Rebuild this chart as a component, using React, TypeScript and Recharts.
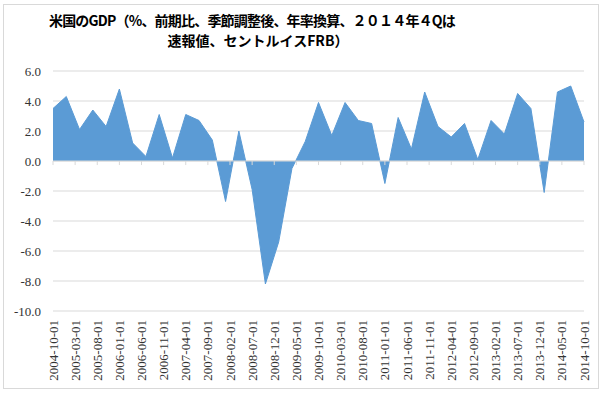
import { AreaChart, Area, XAxis, YAxis, CartesianGrid, ReferenceLine } from "recharts"

const titleLines = ["米国のGDP（%、前期比、季節調整後、年率換算、２０１４年４Qは", "速報値、セントルイスFRB）"]

const quarters = [
  "2004-10-01",
  "2005-01-01", "2005-04-01", "2005-07-01", "2005-10-01",
  "2006-01-01", "2006-04-01", "2006-07-01", "2006-10-01",
  "2007-01-01", "2007-04-01", "2007-07-01", "2007-10-01",
  "2008-01-01", "2008-04-01", "2008-07-01", "2008-10-01",
  "2009-01-01", "2009-04-01", "2009-07-01", "2009-10-01",
  "2010-01-01", "2010-04-01", "2010-07-01", "2010-10-01",
  "2011-01-01", "2011-04-01", "2011-07-01", "2011-10-01",
  "2012-01-01", "2012-04-01", "2012-07-01", "2012-10-01",
  "2013-01-01", "2013-04-01", "2013-07-01", "2013-10-01",
  "2014-01-01", "2014-04-01", "2014-07-01", "2014-10-01",
]

const gdp = [
  3.5,
  4.3, 2.1, 3.4, 2.3,
  4.8, 1.2, 0.3, 3.1,
  0.2, 3.1, 2.7, 1.4,
  -2.7, 2.0, -1.9, -8.2,
  -5.4, -0.5, 1.3, 3.9,
  1.7, 3.9, 2.7, 2.5,
  -1.5, 2.9, 0.8, 4.6,
  2.3, 1.6, 2.5, 0.1,
  2.7, 1.8, 4.5, 3.5,
  -2.1, 4.6, 5.0, 2.6,
]

const tickLabels = [
  "2004-10-01", "2005-03-01", "2005-08-01", "2006-01-01", "2006-06-01",
  "2006-11-01", "2007-04-01", "2007-09-01", "2008-02-01", "2008-07-01",
  "2008-12-01", "2009-05-01", "2009-10-01", "2010-03-01", "2010-08-01",
  "2011-01-01", "2011-06-01", "2011-11-01", "2012-04-01", "2012-09-01",
  "2013-02-01", "2013-07-01", "2013-12-01", "2014-05-01", "2014-10-01",
]

const yTicks = [-10, -8, -6, -4, -2, 0, 2, 4, 6]

// months since 2004-10, used as a numeric date axis
const monthIndex = (d: string) => {
  const [y, m] = d.split("-").map(Number)
  return (y - 2004) * 12 + (m - 10)
}

const data = quarters.map((q, i) => ({ m: monthIndex(q), value: gdp[i] }))
const xTicks = tickLabels.map(monthIndex)
const labelOf = (m: number) => tickLabels[xTicks.indexOf(m)] ?? ""

const serif = "'Liberation Serif', 'DejaVu Serif', serif"

const DateTick = (props: any) => {
  const { x, y, payload } = props
  return (
    <text
      x={x}
      y={y}
      transform={`rotate(-90, ${x}, ${y})`}
      textAnchor="end"
      dy="0.35em"
      fontSize={13}
      fontFamily={serif}
      fill="#333"
    >
      {labelOf(payload.value)}
    </text>
  )
}

export default function App() {
  return (
    <div style={{ position: "absolute", left: 0, top: 0, width: 605, height: 396, background: "#fff" }}>
      <div
        style={{
          position: "absolute",
          left: 3,
          top: 4,
          width: 596,
          height: 385,
          border: "1px solid #d9d9d9",
          boxSizing: "border-box",
        }}
      />
      {titleLines.map((t, i) => (
        <div
          key={i}
          style={{
            position: "absolute",
            left: 0,
            width: i === 0 ? 504 : 516,
            top: 11 + i * 20,
            textAlign: "center",
            fontFamily: "'Noto Sans CJK JP', sans-serif",
            fontWeight: 700,
            fontSize: 14,
            letterSpacing: i === 0 ? "-0.8px" : "0px",
            lineHeight: "18px",
            color: "#000",
            whiteSpace: "nowrap",
          }}
        >
          {t}
        </div>
      ))}
      <AreaChart width={605} height={396} data={data} margin={{ top: 71, right: 21, bottom: 0, left: 0 }}>
        <CartesianGrid vertical={false} stroke="#d9d9d9" />
        <XAxis
          dataKey="m"
          type="number"
          domain={[0, 120]}
          ticks={xTicks}
          interval={0}
          axisLine={false}
          tickLine={false}
          tickSize={0}
          tickMargin={9}
          height={85}
          tick={<DateTick />}
        />
        <YAxis
          domain={[-10, 6]}
          ticks={yTicks}
          interval={0}
          axisLine={false}
          tickLine={false}
          tickSize={0}
          tickMargin={12}
          width={53}
          tickFormatter={(v: number) => v.toFixed(1)}
          tick={{ fontSize: 13, fontFamily: serif, fill: "#333" }}
        />
        <Area
          type="linear"
          dataKey="value"
          stroke="#5b9bd5"
          strokeWidth={1}
          fill="#5b9bd5"
          fillOpacity={1}
          isAnimationActive={false}
        />
        <ReferenceLine y={0} stroke="#d9d9d9" />
        {xTicks.map((t) => (
          <ReferenceLine
            key={t}
            segment={[{ x: t, y: 0 }, { x: t, y: -0.27 }]}
            stroke="#d9d9d9"
          />
        ))}
      </AreaChart>
    </div>
  )
}
